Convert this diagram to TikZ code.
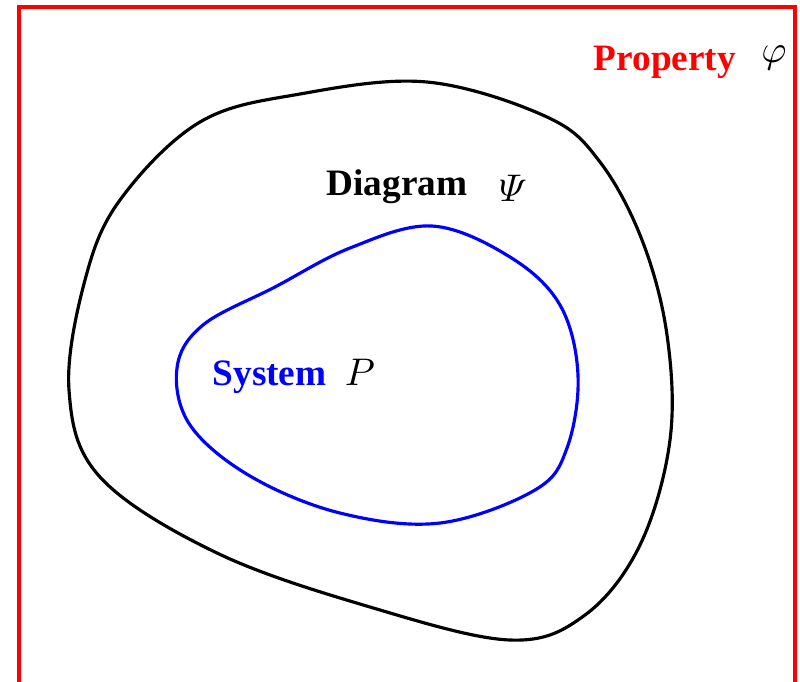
\documentclass[tikz,border=0pt]{standalone}
\usepackage{fontspec}
\setmainfont{Liberation Serif}
\usepackage{amsmath}

\tikzset{
  region/.style={line width=0.9pt},
  nametag/.style={font=\fontsize{10.6}{12}\selectfont\bfseries, inner sep=0pt},
  mathtag/.style={font=\fontsize{10.5}{12}\selectfont, inner sep=0pt},
}

\begin{document}
\begin{tikzpicture}[x=0.01cm, y=-0.01cm]
    \clip (0,0) rectangle (800,681);
    \draw[region, red] (19,7) rectangle (795,730);

    % outer region (diagram)
    \draw[region, black] plot[smooth cycle, tension=0.6] coordinates {
        (427,82) (547,117) (600,162) (642,240) (667,335) (670,440)
        (640,545) (585,615) (510,640) (370,607) (217,553) (100,477)
        (69,390) (85,280) (120,200) (200,122) (300,94)};

    % inner region (system)
    \draw[region, blue] plot[smooth cycle, tension=0.6] coordinates {
        (432,226) (510,257) (560,305) (578,375) (567,448) (535,490)
        (440,523) (340,513) (250,476) (190,425) (177,368) (203,325)
        (275,287) (350,248)};

    \node[nametag, red, anchor=base west] (prop) at (593,70) {Property};
    \node[mathtag] (propsym) at (774,58) {$\varphi$};

    \node[nametag, anchor=base west] (diag) at (326,195) {Diagram};
    \node[mathtag] (diagsym) at (513,188) {$\varPsi$};

    \node[nametag, blue, anchor=base west] (sys) at (212,385) {System};
    \node[mathtag] (syssym) at (360,372) {$P$};
\end{tikzpicture}
\end{document}
